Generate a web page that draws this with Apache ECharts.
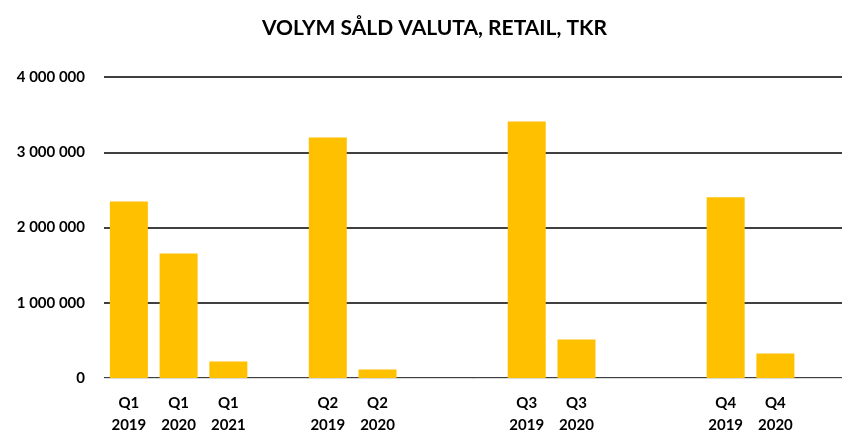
<!DOCTYPE html>
<html lang="sv">
<head>
    <meta charset="utf-8">
    <title>Volym såld valuta</title>
    <script src="https://cdn.jsdelivr.net/npm/echarts@6/dist/echarts.min.js"></script>
    <style>
        html, body { margin: 0; padding: 0; background: #fff; }
    </style>
</head>
<body>
    <div id="main" style="width: 842px;height:431px;"></div>
    <script>
    // blank slots separate the quarter groups
    var quarters = ['Q1', 'Q1', 'Q1', '', 'Q2', 'Q2', '', '', 'Q3', 'Q3', '', '', 'Q4', 'Q4', ''];
    var years = ['2019', '2020', '2021', '', '2019', '2020', '', '', '2019', '2020', '', '', '2019', '2020', ''];
    var volume = [2345000, 1656000, 218000, null, 3196000, 112000, null, null, 3409000, 511000, null, null, 2402000, 325000, null];

    var font = 'Lato, "Noto Sans", sans-serif';

    function spaced(v) {
        return String(v).replace(/\B(?=(\d{3})+(?!\d))/g, ' ');
    }

    var myChart = echarts.init(document.getElementById('main'));
    var option = {
        animation: false,
        title: {
            text: 'VOLYM SÅLD VALUTA, RETAIL, TKR',
            left: 257,
            top: 13,
            textStyle: {
                fontFamily: font,
                fontWeight: 'bold',
                fontSize: 21,
                color: '#000'
            }
        },
        grid: {
            left: 104,
            top: 77,
            width: 746,
            height: 301,
            outerBoundsMode: 'none'
        },
        xAxis: {
            type: 'category',
            data: quarters.map(function (q, i) { return String(i); }),
            axisTick: { show: false },
            axisLine: { lineStyle: { color: '#d9d9d9', width: 1 } },
            axisLabel: {
                interval: 0,
                margin: 14,
                lineHeight: 22,
                fontFamily: font,
                fontWeight: 'bold',
                fontSize: 15,
                color: '#000',
                formatter: function (v) {
                    var i = +v;
                    return quarters[i] ? quarters[i] + '\n' + years[i] : '';
                }
            }
        },
        yAxis: {
            type: 'value',
            min: 0,
            max: 4000000,
            interval: 1000000,
            axisLine: { show: false },
            axisTick: { show: false },
            splitLine: { lineStyle: { color: '#000', width: 1.5 } },
            axisLabel: {
                margin: 19,
                fontFamily: font,
                fontWeight: 'bold',
                fontSize: 15,
                color: '#000',
                formatter: spaced
            }
        },
        series: [{
            type: 'bar',
            data: volume,
            barWidth: 38,
            itemStyle: { color: '#FFC000' }
        }]
    };
    myChart.setOption(option);
    </script>
</body>
</html>
